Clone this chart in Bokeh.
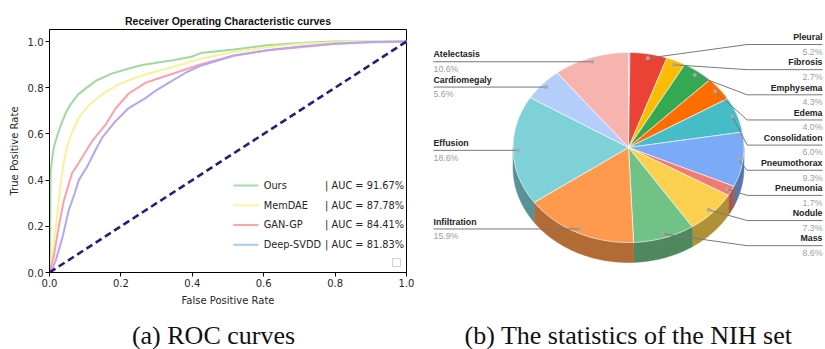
import numpy as np
from bokeh.plotting import figure
from bokeh.layouts import column, row
from bokeh.models import Range1d, FixedTicker, PrintfTickFormatter
from bokeh.core.properties import value
from bokeh.embed import file_html
from bokeh.resources import INLINE

# ---------------- ROC curves: (false positive rate, true positive rate) ----------------
ours_fpr = [0, 0.002, 0.003, 0.008, 0.012, 0.021, 0.030, 0.045, 0.060, 0.080, 0.100, 0.130,
            0.176, 0.220, 0.260, 0.300, 0.350, 0.400, 0.423, 0.516, 0.610, 0.703, 0.796, 0.900, 1.0]
ours_tpr = [0, 0.20, 0.44, 0.50, 0.54, 0.59, 0.63, 0.69, 0.73, 0.77, 0.795, 0.83,
            0.862, 0.882, 0.898, 0.908, 0.920, 0.935, 0.950, 0.965, 0.984, 0.994, 1.0, 1.0, 1.0]

memdae_fpr = [0, 0.005, 0.012, 0.021, 0.031, 0.040, 0.050, 0.059, 0.070, 0.082, 0.110, 0.148,
              0.194, 0.236, 0.270, 0.330, 0.423, 0.516, 0.610, 0.703, 0.800, 0.900, 1.0]
memdae_tpr = [0, 0.06, 0.13, 0.24, 0.38, 0.48, 0.55, 0.59, 0.63, 0.67, 0.725, 0.772,
              0.815, 0.840, 0.858, 0.883, 0.925, 0.955, 0.975, 0.990, 0.997, 1.0, 1.0]

gangp_fpr = [0, 0.005, 0.012, 0.026, 0.040, 0.063, 0.080, 0.092, 0.120, 0.157, 0.185, 0.222,
             0.270, 0.300, 0.360, 0.420, 0.516, 0.610, 0.703, 0.800, 0.900, 1.0]
gangp_tpr = [0, 0.03, 0.07, 0.20, 0.31, 0.43, 0.47, 0.50, 0.57, 0.64, 0.71, 0.775,
             0.822, 0.838, 0.868, 0.900, 0.940, 0.962, 0.975, 0.990, 0.998, 1.0]

svdd_fpr = [0, 0.005, 0.017, 0.036, 0.054, 0.070, 0.082, 0.106, 0.129, 0.148, 0.185, 0.222,
            0.269, 0.300, 0.330, 0.385, 0.423, 0.516, 0.610, 0.703, 0.800, 0.900, 1.0]
svdd_tpr = [0, 0.01, 0.05, 0.15, 0.27, 0.34, 0.40, 0.46, 0.53, 0.585, 0.655, 0.712,
            0.755, 0.790, 0.818, 0.868, 0.895, 0.938, 0.962, 0.978, 0.990, 0.997, 1.0]

methods = ["Ours", "MemDAE", "GAN-GP", "Deep-SVDD"]
auc_pct = [91.67, 87.78, 84.41, 81.83]

# ---------------- NIH label distribution (%), clockwise from 12 o'clock ----------------
classes = ["Hernia", "Pleural", "Fibrosis", "Emphysema", "Edema", "Consolidation",
           "Pneumothorax", "Pneumonia", "Nodule", "Mass", "Infiltration", "Effusion",
           "Cardiomegaly", "Atelectasis"]
shares = [0.2, 5.2, 2.7, 4.3, 4.0, 6.0, 9.3, 1.7, 7.3, 8.6, 15.9, 18.6, 5.6, 10.6]

# shared vertical borders so the two panels of the row line up
BORDER_TOP, BORDER_BOTTOM, PANEL_H = 29, 46, 318

# ======================================================================================
# (a) ROC figure
# ======================================================================================
p = figure(width=420, height=PANEL_H, x_range=Range1d(0, 1), y_range=Range1d(0, 1.052),
           output_backend="svg", toolbar_location=None,
           min_border_left=49, min_border_right=14,
           min_border_top=BORDER_TOP, min_border_bottom=BORDER_BOTTOM,
           title="Receiver Operating Characteristic curves")
p.title.align = "center"
p.title.text_font = "Liberation Sans"
p.title.text_font_size = "10.5px"
p.title.text_font_style = "bold"
p.title.text_color = "#111111"
p.title.standoff = 6

p.grid.visible = False
p.outline_line_color = "black"
p.outline_line_width = 1
p.outline_line_alpha = 1

ticks = [0, 0.2, 0.4, 0.6, 0.8, 1.0]
for ax in (p.xaxis[0], p.yaxis[0]):
    ax.ticker = FixedTicker(ticks=ticks)
    ax.formatter = PrintfTickFormatter(format="%.1f")
    ax.major_tick_out = 4
    ax.major_tick_in = 0
    ax.minor_tick_out = 0
    ax.minor_tick_in = 0
    ax.axis_line_color = "black"
    ax.major_tick_line_color = "black"
    ax.major_label_text_font = "DejaVu Sans"
    ax.major_label_text_font_size = "10px"
    ax.major_label_text_color = "#262626"
    ax.major_label_standoff = 2
    ax.axis_label_text_font = "DejaVu Sans"
    ax.axis_label_text_font_size = "10px"
    ax.axis_label_text_font_style = "normal"
    ax.axis_label_text_color = "#262626"
    ax.axis_label_standoff = 5
p.xaxis.axis_label = "False Positive Rate"
p.yaxis.axis_label = "True Positive Rate"

curve_colors = ["#9ddb9d", "#f8f19a", "#ff9fa8", "#b3a6f6"]
key_colors = ["#a3dfa3", "#fbf3a0", "#ffa3ab", "#a5cdf2"]
curves = [(ours_fpr, ours_tpr), (memdae_fpr, memdae_tpr), (gangp_fpr, gangp_tpr), (svdd_fpr, svdd_tpr)]
for (fx, ty), col in zip(curves, curve_colors):
    p.line(fx, ty, line_color=col, line_width=2)

# chance diagonal
p.line([0, 1], [0, 1], line_color="#2b1a7c", line_width=2.6, line_dash="7 4")

# legend, drawn in data units in the lower right corner
leg_top, leg_step = 0.377, 0.0855
for i, (name, auc) in enumerate(zip(methods, auc_pct)):
    yy = leg_top - i * leg_step
    p.line([0.515, 0.585], [yy, yy], line_color=key_colors[i], line_width=2)
    p.text([0.600], [yy], text=[name], text_font=value("DejaVu Sans"), text_font_size="9.8px",
           text_baseline="middle", text_align="left", text_color="#262626")
    p.text([0.772], [yy], text=[f"| AUC = {auc:.2f}%"], text_font=value("DejaVu Sans"),
           text_font_size="9.8px", text_baseline="middle", text_align="left", text_color="#262626")
p.scatter([0.972], [0.043], marker="square", size=8, fill_color="white",
          line_color="#d0d0d0", line_width=1)

# ======================================================================================
# (b) 3-D pie figure, in pixel units of the page
# ======================================================================================
q = figure(width=405, height=PANEL_H, x_range=Range1d(420, 825),
           y_range=Range1d(PANEL_H - BORDER_BOTTOM, BORDER_TOP),
           output_backend="svg", toolbar_location=None,
           min_border_left=0, min_border_right=0,
           min_border_top=BORDER_TOP, min_border_bottom=BORDER_BOTTOM)
q.axis.visible = False
q.grid.visible = False
q.outline_line_color = None

top_colors = ["#4285f4", "#ea4335", "#fbbc04", "#34a853", "#ff6d01", "#46bdc6", "#7baaf7",
              "#f07b72", "#fcd04f", "#71c287", "#ff994d", "#7ed1d7", "#b3cefb", "#f7b4ae"]


def shade(hex_color, f=0.7):
    r, g, b = (int(hex_color[k:k + 2], 16) for k in (1, 3, 5))
    return "#%02x%02x%02x" % (int(r * f), int(g * f), int(b * f))


cx, cy, rx, ry, depth = 628.0, 147.0, 115.5, 95.0, 20.0
total = float(sum(shares))
edges = np.concatenate([[0.0], np.cumsum(shares)]) / total * 360.0


def ell(theta_deg, k=1.0):
    t = np.radians(theta_deg)
    return cx + k * rx * np.sin(t), cy - k * ry * np.cos(t)


# side walls (front half only)
side_xs, side_ys, side_c = [], [], []
for i in range(len(shares)):
    s, e = max(edges[i], 90.0), min(edges[i + 1], 270.0)
    if s < e:
        th = np.linspace(s, e, 60)
        x, y = ell(th)
        side_xs.append(list(x) + list(x[::-1]))
        side_ys.append(list(y) + list(y[::-1] + depth))
        side_c.append(shade(top_colors[i]))
q.patches(side_xs, side_ys, fill_color=side_c, line_color=side_c, line_width=0.5)

# top faces
top_xs, top_ys = [], []
for i in range(len(shares)):
    th = np.linspace(edges[i], edges[i + 1], max(4, int(shares[i] * 8)))
    x, y = ell(th)
    top_xs.append([cx] + list(x))
    top_ys.append([cy] + list(y))
q.patches(top_xs, top_ys, fill_color=top_colors, line_color="white", line_width=0.6)

# callout labels
lead_xs, lead_ys, dot_x, dot_y = [], [], [], []
name_x, name_y, name_t, name_a = [], [], [], []
pct_x, pct_y, pct_t, pct_a = [], [], [], []
right_slot = 0
for i, (name, v) in enumerate(zip(classes, shares)):
    if v < 1.0:
        continue
    mid = 0.5 * (edges[i] + edges[i + 1])
    dx, dy = ell(mid, 0.955)
    dot_x.append(dx)
    dot_y.append(dy)
    if mid < 180:
        ly = 44.0 + 25.15 * right_slot
        right_slot += 1
        lead_xs.append([dx, 746.7, 822.0])
        lead_ys.append([dy, ly, ly])
        tx, align = 822.0, "right"
    else:
        ly = dy
        lead_xs.append([433.0, dx])
        lead_ys.append([ly, ly])
        tx, align = 433.0, "left"
    name_x.append(tx); name_y.append(ly - 7.3); name_t.append(name); name_a.append(align)
    pct_x.append(tx); pct_y.append(ly + 7.3); pct_t.append(f"{v:.1f}%"); pct_a.append(align)

q.multi_line(lead_xs, lead_ys, line_color="#787878", line_width=1)
q.scatter(dot_x, dot_y, size=4, fill_color="#a8a8a8", line_color=None)
for xs_, ys_, ts_, as_, style, color in ((name_x, name_y, name_t, name_a, "bold", "#222222"),
                                         (pct_x, pct_y, pct_t, pct_a, "normal", "#9e9e9e")):
    for a in ("left", "right"):
        idx = [j for j in range(len(ts_)) if as_[j] == a]
        q.text([xs_[j] for j in idx], [ys_[j] for j in idx], text=[ts_[j] for j in idx],
               text_font=value("Liberation Sans"), text_font_size="8.8px",
               text_font_style=style, text_color=color, text_align=a, text_baseline="middle")

# ======================================================================================
# sub-captions
# ======================================================================================
c = figure(width=825, height=31, x_range=Range1d(0, 825), y_range=Range1d(31, 0),
           output_backend="svg", toolbar_location=None, min_border=0)
c.axis.visible = False
c.grid.visible = False
c.outline_line_color = None
c.text([213, 628], [17, 17], text=["(a) ROC curves", "(b) The statistics of the NIH set"],
       text_font=value("Liberation Serif"), text_font_size="26px", text_color="#111111",
       text_align="center", text_baseline="middle")

layout = column(row(p, q, spacing=0), c, spacing=0)
open("out.html", "w").write(file_html(layout, INLINE))
